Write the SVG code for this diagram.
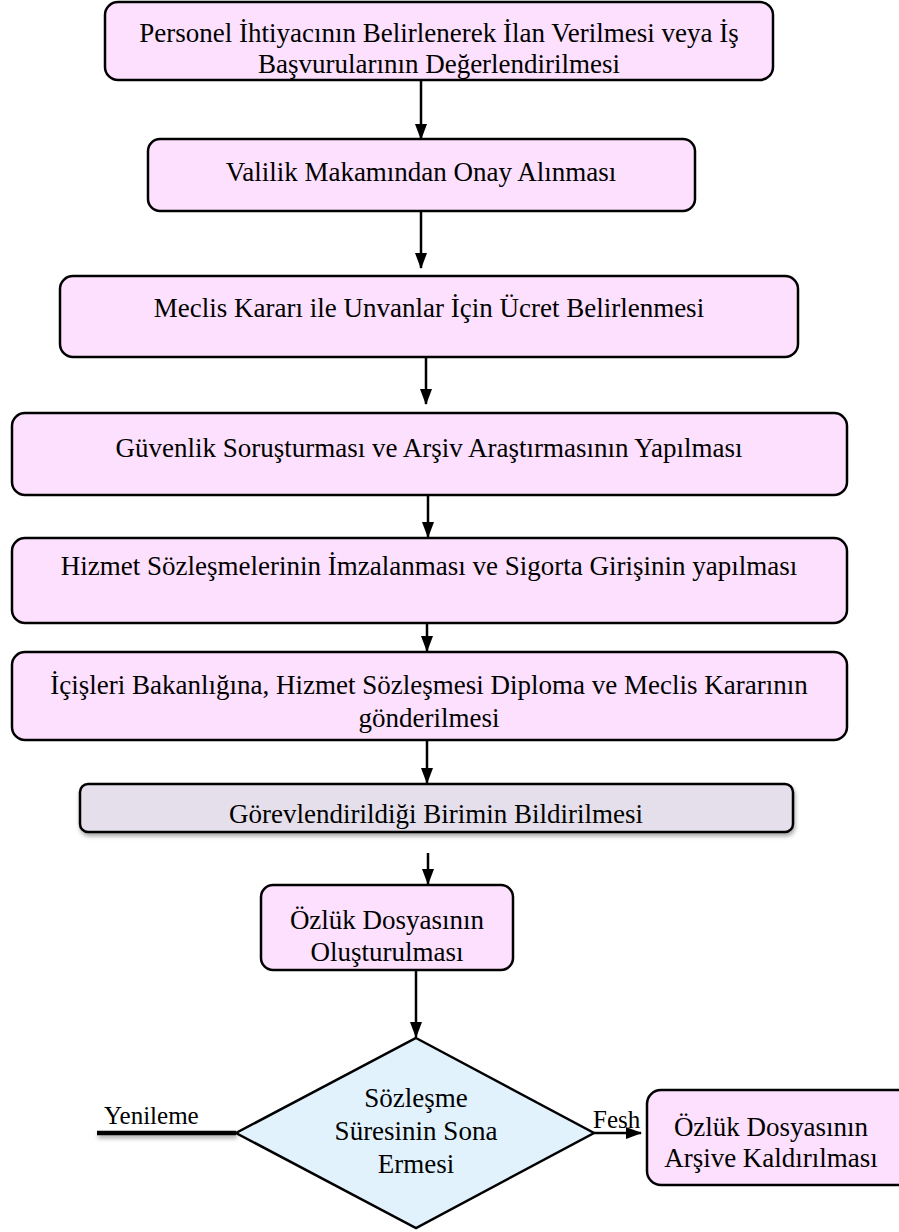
<svg xmlns="http://www.w3.org/2000/svg" width="899" height="1232" viewBox="0 0 899 1232">
<defs>
<marker id="ah" markerWidth="16" markerHeight="12" refX="15" refY="6" orient="auto" markerUnits="userSpaceOnUse" viewBox="0 0 16 12">
<path d="M0,0 L16,6 L0,12 Z" fill="#000"/>
</marker>
<filter id="sh" filterUnits="userSpaceOnUse" x="0" y="0" width="899" height="1232">
<feDropShadow dx="1" dy="3" stdDeviation="2" flood-color="#000" flood-opacity="0.35"/>
</filter>
</defs>
<style>
.box{fill:#FDE0FD;stroke:#000;stroke-width:2.5}
.grey{fill:#E5DFEB;stroke:#000;stroke-width:2.5}
.dia{fill:#E1F2FD;stroke:#000;stroke-width:2.5}
.t{font-family:"Liberation Serif","Times New Roman",serif;font-size:27px;fill:#000;text-anchor:middle}
.lbl{font-family:"Liberation Serif","Times New Roman",serif;font-size:25px;fill:#000}
.c{stroke:#000;stroke-width:2.5;fill:none}
</style>
<rect width="899" height="1232" fill="#fff"/>
<g id="connectors">
<line class="c" x1="421" y1="80" x2="421" y2="139" marker-end="url(#ah)"/>
<line class="c" x1="421" y1="211" x2="421" y2="268" marker-end="url(#ah)"/>
<line class="c" x1="426" y1="357" x2="426" y2="404" marker-end="url(#ah)"/>
<line class="c" x1="428" y1="495" x2="428" y2="537" marker-end="url(#ah)"/>
<line class="c" x1="427" y1="623" x2="427" y2="651" marker-end="url(#ah)"/>
<line class="c" x1="427" y1="740" x2="427" y2="783" marker-end="url(#ah)"/>
<line class="c" x1="428" y1="853" x2="428" y2="884" marker-end="url(#ah)"/>
<line class="c" x1="416" y1="970" x2="416" y2="1037" marker-end="url(#ah)"/>
<line class="c" x1="594" y1="1133" x2="641" y2="1133" marker-end="url(#ah)"/>
<line x1="97" y1="1133" x2="236" y2="1133" stroke="#000" stroke-width="4.5" filter="url(#sh)"/>
<text class="lbl" x="104" y="1124">Yenileme</text>
<text class="lbl" x="593" y="1128">Fesh</text>
</g>
<g id="n1">
<rect class="box" x="105" y="2" width="668" height="78" rx="13"/>
<text class="t" x="439" y="42">Personel İhtiyacının Belirlenerek İlan Verilmesi veya İş</text>
<text class="t" x="439" y="73">Başvurularının Değerlendirilmesi</text>
</g>
<g id="n2">
<rect class="box" x="148" y="139" width="547" height="72" rx="12"/>
<text class="t" x="421" y="181">Valilik Makamından Onay Alınması</text>
</g>
<g id="n3">
<rect class="box" x="60" y="276" width="738" height="81" rx="13"/>
<text class="t" x="429" y="317">Meclis Kararı ile Unvanlar İçin Ücret Belirlenmesi</text>
</g>
<g id="n4">
<rect class="box" x="12" y="413" width="835" height="82" rx="13"/>
<text class="t" x="429" y="457">Güvenlik Soruşturması ve Arşiv Araştırmasının Yapılması</text>
</g>
<g id="n5">
<rect class="box" x="12" y="538" width="835" height="85" rx="13"/>
<text class="t" x="429" y="575">Hizmet Sözleşmelerinin İmzalanması ve Sigorta Girişinin yapılması</text>
</g>
<g id="n6">
<rect class="box" x="12" y="652" width="835" height="88" rx="13"/>
<text class="t" x="429" y="694">İçişleri Bakanlığına, Hizmet Sözleşmesi Diploma ve Meclis Kararının</text>
<text class="t" x="429" y="727">gönderilmesi</text>
</g>
<g id="n7">
<rect class="grey" x="80" y="784" width="713" height="48" rx="8" filter="url(#sh)"/>
<text class="t" x="436" y="823">Görevlendirildiği Birimin Bildirilmesi</text>
</g>
<g id="n8">
<rect class="box" x="261" y="885" width="252" height="85" rx="12"/>
<text class="t" x="387" y="929">Özlük Dosyasının</text>
<text class="t" x="387" y="961">Oluşturulması</text>
</g>
<g id="n9">
<polygon class="dia" points="416,1038 594,1133 416,1228 236,1133"/>
<text class="t" x="416" y="1107">Sözleşme</text>
<text class="t" x="416" y="1140">Süresinin Sona</text>
<text class="t" x="416" y="1173">Ermesi</text>
</g>
<g id="n10">
<rect class="box" x="647" y="1090" width="280" height="95" rx="14"/>
<text class="t" x="771" y="1136">Özlük Dosyasının</text>
<text class="t" x="771" y="1167">Arşive Kaldırılması</text>
</g>
</svg>
